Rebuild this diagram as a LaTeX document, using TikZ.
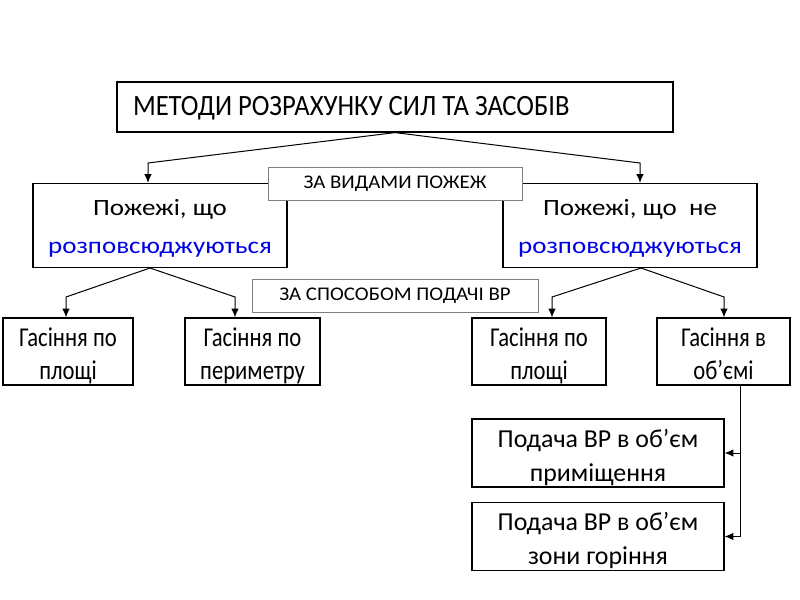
\documentclass[tikz,border=0pt]{standalone}
\usepackage{fontspec}
\usepackage{graphicx}
\setmainfont{Carlito}
\usetikzlibrary{arrows.meta,calc}
\definecolor{blu}{RGB}{0,0,230}
% #1 lowering, #2 x-scale, #3 y-scale, #4 font size, #5 line skip, #6 lines
\newcommand\tx[6]{\raisebox{-#1}[\height][\depth]{\scalebox{#2}[#3]{\fontsize{#4}{#5}\selectfont\begin{tabular}{@{}c@{}}#6\end{tabular}}}}
\begin{document}
\begin{tikzpicture}[x=0.75pt,y=-0.75pt,
  box/.style={draw=black,line width=0.9pt,fill=white,inner sep=0pt,align=center},
  lab/.style={draw=black!50,line width=0.6pt,fill=white,inner sep=0pt,align=center},
  arr/.style={line width=0.75pt,-{Latex[length=6.5pt,width=5.5pt]}},
  ln/.style={line width=0.75pt}]
\useasboundingbox (0,0) rectangle (800,600);
\fill[white] (0,0) rectangle (800,600);
\node[box,minimum width=417pt,minimum height=37.5pt] (top) at (395,107) {\makebox[393pt][l]{\tx{1.2pt}{1.03}{1.14}{19.4pt}{23pt}{МЕТОДИ РОЗРАХУНКУ СИЛ ТА ЗАСОБІВ}}};
\node[box,minimum width=190.5pt,minimum height=63pt] (L) at (160,225.5) {\tx{0.8pt}{1.157}{1}{17.5pt}{28.5pt}{Пожежі, що\\\textcolor{blu}{розповсюджуються}}};
\node[box,minimum width=190.5pt,minimum height=63pt] (R) at (630,225.5) {\tx{0.8pt}{1.157}{1}{17.5pt}{28.5pt}{Пожежі, що\ \ не\\\textcolor{blu}{розповсюджуються}}};
\node[lab,minimum width=190.5pt,minimum height=24.75pt] (l1) at (395,183.5) {\tx{0pt}{1.08}{1}{14.5pt}{17pt}{ЗА ВИДАМИ ПОЖЕЖ}};
\node[lab,minimum width=214.5pt,minimum height=24.75pt] (l2) at (395,295.5) {\tx{0pt}{1.08}{1}{14.5pt}{17pt}{ЗА СПОСОБОМ ПОДАЧІ ВР}};
\node[box,minimum width=97.5pt,minimum height=50.25pt] (b1) at (68,351.5) {\tx{4pt}{1}{1.2}{17pt}{20.6pt}{Гасіння по\\площі}};
\node[box,minimum width=101.25pt,minimum height=50.25pt] (b2) at (252.5,351.5) {\tx{4pt}{1}{1.2}{17pt}{20.6pt}{Гасіння по\\периметру}};
\node[box,minimum width=100.5pt,minimum height=50.25pt] (b3) at (539,351.5) {\tx{4pt}{1}{1.2}{17pt}{20.6pt}{Гасіння по\\площі}};
\node[box,minimum width=99.75pt,minimum height=50.25pt] (b4) at (723.5,351.5) {\tx{4pt}{1}{1.2}{17pt}{20.6pt}{Гасіння в\\об’ємі}};
\node[box,minimum width=189pt,minimum height=49.5pt] (s1) at (598,453) {\tx{3.2pt}{1}{1}{19.4pt}{25.5pt}{Подача ВР в об’єм\\приміщення}};
\node[box,minimum width=189pt,minimum height=50.25pt] (s2) at (598,536.5) {\tx{3.4pt}{1}{1}{19.4pt}{25.5pt}{Подача ВР в об’єм\\зони горіння}};
% connectors
\coordinate (la) at (148,163);
\coordinate (ra) at (640,163);
\draw[arr] (top.south) -- (la) -- (la |- L.north);
\draw[arr] (top.south) -- (ra) -- (ra |- R.north);
\coordinate (Lb) at (150,268);
\coordinate (Rb) at (641,268);
\coordinate (c1) at (66,297);
\coordinate (c2) at (235,297);
\coordinate (c3) at (552,297);
\coordinate (c4) at (724,297);
\draw[arr] (Lb) -- (c1) -- (c1 |- b1.north);
\draw[arr] (Lb) -- (c2) -- (c2 |- b2.north);
\draw[arr] (Rb) -- (c3) -- (c3 |- b3.north);
\draw[arr] (Rb) -- (c4) -- (c4 |- b4.north);
\coordinate (v0) at (740,385);
\coordinate (v2) at (740,536.5);
\draw[ln] (v0) -- (v2);
\draw[arr] (v0 |- s1.east) -- (s1.east);
\draw[arr] (v2) -- (s2.east);
\end{tikzpicture}
\end{document}
